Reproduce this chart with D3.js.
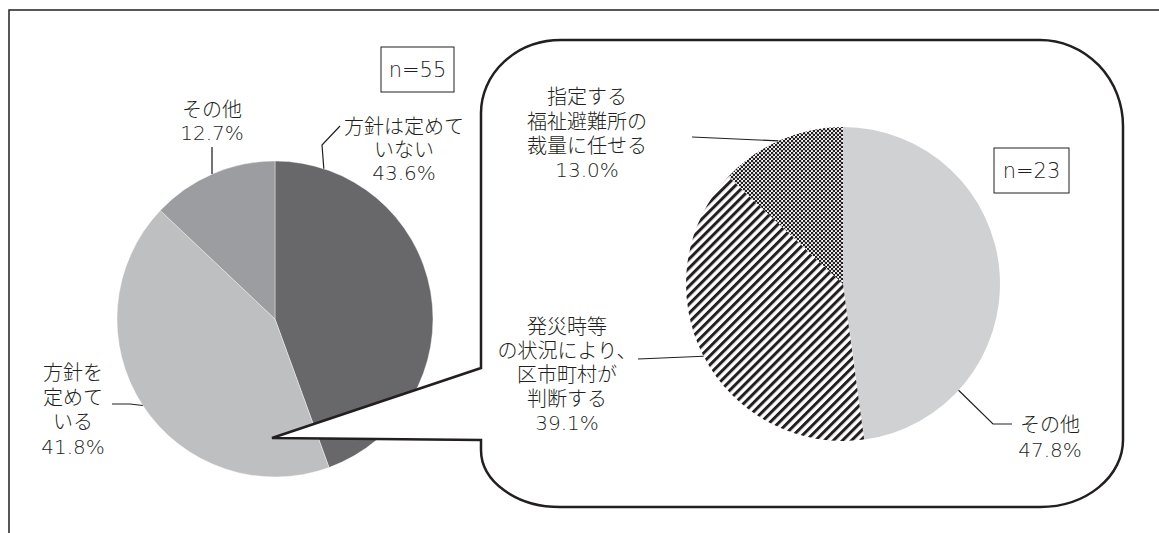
<!DOCTYPE html>
<html>
<head>
<meta charset="utf-8">
<script src="https://cdn.jsdelivr.net/npm/d3@7"></script>
<style>
  body { margin: 0; background: #fff; }
  svg text { font-family: "DejaVu Sans", "Noto Sans CJK JP", sans-serif; font-weight: 300; fill: #231f20; }
</style>
</head>
<body>
<div id="chart"></div>
<script>

// left pie: n=55
var leftCategories = ["方針は定めていない", "方針を定めている", "その他"];
var leftValues = [43.6, 41.8, 12.7];
var leftLabelLines = [["方針は定めて", "いない"], ["方針を", "定めて", "いる"], ["その他"]];
var leftN = "n=55";

// right pie (detail of 方針を定めている): n=23
var rightCategories = ["その他", "発災時等の状況により、区市町村が判断する", "指定する福祉避難所の裁量に任せる"];
var rightValues = [47.8, 39.1, 13.0];
var rightLabelLines = [["その他"], ["発災時等", "の状況により、", "区市町村が", "判断する"], ["指定する", "福祉避難所の", "裁量に任せる"]];
var rightN = "n=23";

var width = 1159, height = 533;
var ink = "#231f20";
var fmt = function(v) { return d3.format(".1f")(v) + "%"; };

var svg = d3.select("#chart").append("svg")
    .attr("width", width)
    .attr("height", height);

var defs = svg.append("defs");

var stripes = defs.append("pattern")
    .attr("id", "stripes")
    .attr("patternUnits", "userSpaceOnUse")
    .attr("width", 6.4).attr("height", 6.4)
    .attr("patternTransform", "rotate(45)");
stripes.append("rect").attr("width", 6.4).attr("height", 6.4).attr("fill", "#fff");
stripes.append("rect").attr("width", 3).attr("height", 6.4).attr("fill", ink);

var dots = defs.append("pattern")
    .attr("id", "dots")
    .attr("patternUnits", "userSpaceOnUse")
    .attr("width", 4).attr("height", 4);
dots.append("rect").attr("width", 4).attr("height", 4).attr("fill", "#fff");
dots.append("circle").attr("cx", 1).attr("cy", 1).attr("r", 1.3).attr("fill", ink);
dots.append("circle").attr("cx", 3).attr("cy", 3).attr("r", 1.3).attr("fill", ink);

// outer frame (top and left only)
svg.append("path")
    .attr("d", "M9,533 L9,10 L" + width + ",10")
    .attr("fill", "none")
    .attr("stroke", ink)
    .attr("stroke-width", 1.5);

var pie = d3.pie().sort(null).value(function(d) { return d; });

function drawPie(g, values, fills, r) {
  var arc = d3.arc().innerRadius(0).outerRadius(r);
  g.selectAll("path.slice")
    .data(pie(values))
    .enter().append("path")
      .attr("class", "slice")
      .attr("d", arc)
      .attr("fill", function(d, i) { return fills[i]; })
      .attr("stroke", "#fff")
      .attr("stroke-width", 0.4);
}

// point on circle at angle (deg, clockwise from top)
function edge(r, deg) {
  var a = deg * Math.PI / 180;
  return [r * Math.sin(a), -r * Math.cos(a)];
}

function drawLabels(g, r, lines, values, layout) {
  layout.forEach(function(L, i) {
    var p = edge(r, L.angle);
    var pts = [p].concat(L.leader);
    g.append("path")
      .attr("d", d3.line()(pts))
      .attr("fill", "none")
      .attr("stroke", ink)
      .attr("stroke-width", 1.2);
    var all = lines[i].concat([fmt(values[i])]);
    var t = g.append("text").attr("text-anchor", "middle").style("font-size", "20px");
    all.forEach(function(s, k) {
      t.append("tspan")
        .attr("x", L.x)
        .attr("y", L.y + k * L.lh)
        .attr("dy", "0.36em")
        .text(s);
    });
  });
}

function nBox(x, y, w, h, label) {
  svg.append("rect")
    .attr("x", x).attr("y", y).attr("width", w).attr("height", h)
    .attr("fill", "#fff").attr("stroke", ink).attr("stroke-width", 1);
  svg.append("text")
    .attr("x", x + w / 2).attr("y", y + h / 2).attr("dy", "0.36em")
    .attr("text-anchor", "middle")
    .style("font-size", "21px")
    .text(label);
}

// ---- left pie
var lcx = 275, lcy = 319, lr = 158;
var gl = svg.append("g").attr("transform", "translate(" + lcx + "," + lcy + ")");
drawPie(gl, leftValues, ["#68686a", "#bebfc1", "#9c9da0"], lr);
drawLabels(gl, lr, leftLabelLines, leftValues, [
  { angle: 18,    leader: [[47, -174], [65, -193]],  x: 129,  y: -192, lh: 23 },
  { angle: 236.8, leader: [[-145, 85], [-163, 85]],  x: -202, y: 54,   lh: 24.5 },
  { angle: 336.5, leader: [[-63, -172]],             x: -63,  y: -209, lh: 23 }
]);
nBox(381, 47, 73, 45, leftN);

// ---- callout balloon
svg.append("path")
    .attr("d", "M481,113 A80,73 0 0 1 561,40 L1040,40 A83,86 0 0 1 1123,126 " +
               "L1123,440 A83,67 0 0 1 1040,507 L560,507 A79,57 0 0 1 481,450 " +
               "L481,440 L272,438 L481,368 Z")
    .attr("fill", "#fff")
    .attr("stroke", ink)
    .attr("stroke-width", 2.5)
    .attr("stroke-linejoin", "miter");

// ---- right pie
var rcx = 843, rcy = 284, rr = 157;
var gr = svg.append("g").attr("transform", "translate(" + rcx + "," + rcy + ")");
drawPie(gr, rightValues, ["#d0d1d3", "url(#stripes)", "url(#dots)"], rr);
gr.selectAll("path.slice").attr("stroke", "none");
drawLabels(gr, rr, rightLabelLines, rightValues, [
  { angle: 132.6, leader: [[150, 140], [169, 140]], x: 207,  y: 141,  lh: 25 },
  { angle: 242.6, leader: [[-205, 75]],             x: -276, y: 43,   lh: 24 },
  { angle: 335.7, leader: [[-151, -147]],           x: -256, y: -187, lh: 24.3 }
]);
nBox(994, 148, 75, 45, rightN);

</script>
</body>
</html>
